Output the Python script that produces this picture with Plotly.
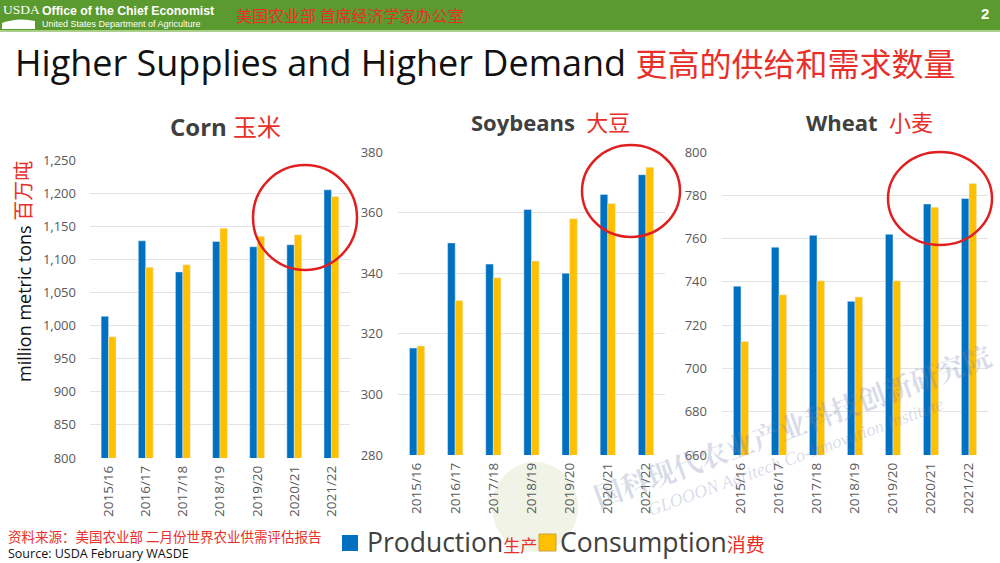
import plotly.graph_objects as go

years = ["2015/16", "2016/17", "2017/18", "2018/19", "2019/20", "2020/21", "2021/22"]
corn_prod = [1014, 1128, 1081, 1127, 1119, 1122, 1205]
corn_cons = [983, 1088, 1092, 1147, 1135, 1137, 1195]
soy_prod = [315.3, 350, 343, 361, 340, 366, 372.5]
soy_cons = [316, 331, 338.5, 344, 358, 363, 375]
wheat_prod = [738, 756, 761.5, 731, 762, 776, 778.5]
wheat_cons = [712.5, 734, 740.5, 733, 740.5, 774.5, 785.5]

BLUE = "#0070C0"
GOLD = "#FFC000"
RED = "#E8302A"
FONT = "Open Sans, Noto Sans CJK SC, sans-serif"

W, H = 1000, 563
def px(x):
    return x / W
def py(y):
    return 1 - y / H

fig = go.Figure()
panels = [
    ("x", "y", corn_prod, corn_cons),
    ("x2", "y2", soy_prod, soy_cons),
    ("x3", "y3", wheat_prod, wheat_cons),
]
for xa, ya, p, c in panels:
    fig.add_trace(go.Bar(x=years, y=p, marker_color=BLUE, xaxis=xa, yaxis=ya,
                         name="Production", showlegend=False))
    fig.add_trace(go.Bar(x=years, y=c, marker_color=GOLD, xaxis=xa, yaxis=ya,
                         name="Consumption", showlegend=False))

xcommon = dict(tickangle=-90, tickfont=dict(size=13.5, color="#595959", family=FONT),
               showgrid=False, showline=False, ticks="", ticklabelstandoff=4)
ycommon = dict(showgrid=True, gridcolor="#E3E3E3", gridwidth=1, zeroline=False,
               tickfont=dict(size=13, color="#595959", family=FONT), ticks="")

fig.update_layout(
    width=W, height=H, margin=dict(l=0, r=0, t=0, b=0, autoexpand=False),
    paper_bgcolor="white", plot_bgcolor="white",
    barmode="group", bargap=0.6, bargroupgap=0,
    font=dict(family=FONT), showlegend=False,
    xaxis=dict(domain=[px(90), px(350)], anchor="y", **xcommon),
    xaxis2=dict(domain=[px(398), px(665)], anchor="y2", **xcommon),
    xaxis3=dict(domain=[px(722), px(988)], anchor="y3", **xcommon),
    yaxis=dict(domain=[py(458), py(160)], range=[800, 1250], dtick=50, tickformat=",",
               anchor="x", ticklabelstandoff=13, **ycommon),
    yaxis2=dict(domain=[py(455), py(152)], range=[280, 380], dtick=20,
                anchor="x2", ticklabelstandoff=14, **ycommon),
    yaxis3=dict(domain=[py(455), py(152)], range=[660, 800], dtick=20,
                anchor="x3", ticklabelstandoff=14, **ycommon),
)

usda_swoosh = "M %f,%f L %f,%f Q %f,%f %f,%f L %f,%f Z" % (
    px(2), py(29), px(2), py(23), px(18), py(17), px(35), py(21), px(35), py(29))
shapes = [
    dict(type="rect", xref="paper", yref="paper", x0=0, x1=1, y0=py(30), y1=1,
         fillcolor="#5B9A2E", line=dict(width=0), layer="below"),
    dict(type="rect", xref="paper", yref="paper", x0=0, x1=1, y0=py(32), y1=py(30),
         fillcolor="#A9CF8A", line=dict(width=0), layer="below"),
    dict(type="path", xref="paper", yref="paper", path=usda_swoosh,
         fillcolor="white", line=dict(width=0)),
    # faint watermark logo
    dict(type="circle", xref="paper", yref="paper", x0=px(492), x1=px(578), y0=py(552), y1=py(462),
         fillcolor="rgba(205,215,170,0.30)", line=dict(width=0), layer="below"),
    # highlight circles
    dict(type="circle", xref="paper", yref="paper", x0=px(253), x1=px(357), y0=py(270), y1=py(165),
         line=dict(color="#E02020", width=2.5)),
    dict(type="circle", xref="paper", yref="paper", x0=px(582), x1=px(680), y0=py(237), y1=py(145),
         line=dict(color="#E02020", width=2.5)),
    dict(type="circle", xref="paper", yref="paper", x0=px(888), x1=px(992), y0=py(245), y1=py(152),
         line=dict(color="#E02020", width=2.5)),
    # legend swatches
    dict(type="rect", xref="paper", yref="paper", x0=px(342), x1=px(358), y0=py(551), y1=py(535),
         fillcolor=BLUE, line=dict(width=0)),
    dict(type="rect", xref="paper", yref="paper", x0=px(539), x1=px(556), y0=py(551), y1=py(534),
         fillcolor=GOLD, line=dict(width=1, color="#C9A040")),
]
fig.update_layout(shapes=shapes)

ann = []
def A(x, y, text, size, color, xanchor="left", bold=False, angle=0, family=FONT, yanchor="middle"):
    t = "<b>%s</b>" % text if bold else text
    ann.append(dict(x=px(x), y=py(y), xref="paper", yref="paper", text=t, showarrow=False,
                    xanchor=xanchor, yanchor=yanchor, textangle=angle,
                    font=dict(size=size, color=color, family=family)))

# header
A(1, 9, "USDA", 13.5, "white", family="Liberation Serif, serif")
A(40, 11, "Office of the Chief Economist", 12.3, "white", bold=True, family="Liberation Sans, Arial, sans-serif")
A(40, 24, "United States Department of Agriculture", 9, "white", family="Liberation Sans, Arial, sans-serif")
A(234, 15, "美国农业部 首席经济学家办公室", 16, RED, family="Noto Sans CJK SC")
A(991, 14, "2", 15, "white", xanchor="right", bold=True, family="Liberation Sans, Arial, sans-serif")
# title
A(13, 63, "Higher Supplies and Higher Demand <span style='color:%s;font-size:32px'>更高的供给和需求数量</span>" % RED, 36, "#111111")
# subplot titles
A(225, 127, "<b>Corn</b> <span style='color:%s'>玉米</span>" % RED, 24, "#404040", xanchor="center")
A(550, 122, "<b>Soybeans</b>  <span style='color:%s'>大豆</span>" % RED, 22, "#404040", xanchor="center")
A(869, 122, "<b>Wheat</b>  <span style='color:%s'>小麦</span>" % RED, 22, "#404040", xanchor="center")
# y axis title
A(23, 272, "million metric tons <span style='color:%s;font-size:20px'>百万吨</span>" % RED, 18, "#111111", xanchor="center", angle=-90)
# legend (manual)
A(365, 542, "Production<span style='color:%s;font-size:17px'>生产</span>" % RED, 26.5, "#404040")
A(558, 542, "Consumption<span style='color:%s;font-size:19px'>消费</span>" % RED, 26.5, "#404040")
# sources
A(6, 536, "资料来源：美国农业部 二月份世界农业供需评估报告", 13.5, RED, family="Noto Sans CJK SC")
A(6, 553, "Source: USDA February WASDE", 12.5, "#111111")
# watermark
A(792, 425, "国科现代农业产业科技创新研究院", 28, "rgba(120,130,175,0.28)", xanchor="center", angle=-20,
  family="Noto Serif CJK SC, Noto Sans CJK SC, serif", bold=True)
A(795, 457, "<i>GLOOON Agritech Co-Innovation Institute</i>", 18, "rgba(120,130,175,0.28)", xanchor="center",
  angle=-20, family="Liberation Serif, serif")
fig.update_layout(annotations=ann)

fig.write_html("out.html", post_script="document.body.style.margin='0';",
               config={"displayModeBar": False})
